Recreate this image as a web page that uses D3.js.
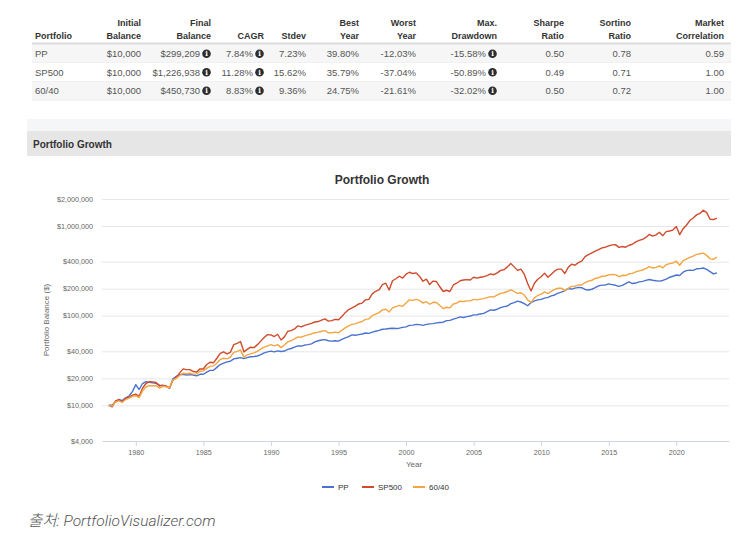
<!DOCTYPE html>
<html><head><meta charset="utf-8">
<script src="https://cdn.jsdelivr.net/npm/d3@7"></script>
<style>
body{margin:0;background:#fff;}
svg{display:block;font-family:"Liberation Sans",Arial,Helvetica,sans-serif;}
</style>
</head><body>
<svg id="c" width="743" height="536"></svg>
<script>
// ---------------- DATA ----------------
const portfolios = ["PP", "SP500", "60/40"];
const headLine1 = ["", "Initial", "Final", "", "", "Best", "Worst", "Max.", "Sharpe", "Sortino", "Market"];
const headLine2 = ["Portfolio", "Balance", "Balance", "CAGR", "Stdev", "Year", "Year", "Drawdown", "Ratio", "Ratio", "Correlation"];
const initialBalance = ["$10,000", "$10,000", "$10,000"];
const finalBalance = ["$299,209", "$1,226,938", "$450,730"];
const cagr = ["7.84%", "11.28%", "8.83%"];
const stdev = ["7.23%", "15.62%", "9.36%"];
const bestYear = ["39.80%", "35.79%", "24.75%"];
const worstYear = ["-12.03%", "-37.04%", "-21.61%"];
const maxDrawdown = ["-15.58%", "-50.89%", "-32.02%"];
const sharpeRatio = ["0.50", "0.49", "0.50"];
const sortinoRatio = ["0.78", "0.71", "0.72"];
const marketCorrelation = ["0.59", "1.00", "1.00"];
const hasInfoIcon = [false, false, true, true, false, false, false, true, false, false, false];

const seriesNames = ["PP", "SP500", "60/40"];
const startYear = 1978;           // quarterly values, Jan 1978 .. Jan 2023
// portfolio balances in thousands of dollars
const ppK = [
  10.0, 10.1, 10.9, 11.6,
  11.3, 12.1, 12.7, 14.2,
  17.0, 15.0, 17.5, 18.4,
  18.0, 17.8, 17.6, 16.8,
  16.6, 16.4, 15.4, 19.8,
  21.0, 22.0, 22.2, 21.8,
  22.0, 21.8, 21.3, 22.2,
  22.2, 23.5, 24.5, 24.6,
  26.5, 28.5, 29.5, 30.5,
  31.0, 33.0, 33.5, 34.0,
  33.2, 34.0, 34.8, 35.0,
  35.5, 36.8, 38.5, 39.5,
  40.2, 39.5, 40.5, 39.8,
  40.3, 42.0, 43.0, 44.5,
  46.0, 45.8, 47.0, 47.5,
  48.5, 51.0, 52.5, 53.5,
  54.0, 52.5, 52.0, 52.5,
  52.0, 54.5, 56.5, 58.5,
  61.0, 60.5, 61.5, 62.5,
  64.0, 63.5, 65.5, 67.0,
  68.5, 70.5, 71.0, 72.0,
  72.5, 72.0, 72.5, 74.0,
  75.0, 78.0, 78.5, 80.0,
  79.5, 78.0, 80.0, 81.0,
  81.5, 83.0, 84.0, 84.5,
  88.0, 88.5, 91.5, 94.0,
  97.0, 95.5, 97.5, 99.0,
  102.0, 102.5, 104.5, 106.0,
  111.0, 116.0, 115.0, 118.0,
  123.0, 126.0, 128.0, 136.0,
  140.0, 145.0, 142.0, 136.0,
  129.0, 140.0, 146.0, 150.0,
  152, 157, 160, 166,
  170, 178, 183, 190,
  200, 198, 203, 207,
  205, 196, 193, 197,
  205, 215, 219, 220,
  226, 222, 218, 212,
  218, 228, 238, 228,
  231, 238, 241, 247,
  253, 248, 245, 243,
  247, 256, 268, 275,
  284, 280, 305, 318,
  322, 320, 333, 335,
  340, 328, 310, 292,
  299
];
const sp500K = [
  10.0, 9.6, 11.2, 11.6,
  10.9, 12.0, 12.3, 13.0,
  13.3, 12.6, 15.5, 17.5,
  18.4, 18.2, 18.0, 16.4,
  16.8, 16.4, 15.7, 19.0,
  20.5, 23.0, 25.5, 25.0,
  25.0, 23.8, 23.5, 25.5,
  25.4, 28.5, 30.2, 29.8,
  33.5, 38.0, 39.5, 37.5,
  39.0, 47.5, 49.0, 51.5,
  39.5, 42.0, 44.5, 44.0,
  47.5, 52.0, 57.0, 61.5,
  61.0, 58.5, 62.0, 53.5,
  58.0, 67.0, 68.0, 71.0,
  77.0, 75.0, 78.0, 80.0,
  82.0, 85.0, 86.0, 89.0,
  92.0, 87.0, 88.0, 91.0,
  90.0, 98.0, 108.0, 117.0,
  122.0, 128.0, 135.0, 138.0,
  150.0, 152.0, 175.0, 187.0,
  194.0, 222.0, 230.0, 193.0,
  245.0, 258.0, 275.0, 262.0,
  290.0, 305.0, 295.0, 300.0,
  274.0, 242.0, 255.0, 222.0,
  243.0, 240.0, 210.0, 186.0,
  192.0, 186.0, 220.0, 230.0,
  245.0, 250.0, 252.0, 250.0,
  268.0, 262.0, 268.0, 272.0,
  280.0, 292.0, 286.0, 300.0,
  320.0, 325.0, 350.0, 382.0,
  350.0, 320.0, 330.0, 290.0,
  228.0, 188.0, 230.0, 255.0,
  272.0, 298.0, 268.0, 290.0,
  315.0, 330.0, 330.0, 295.0,
  345.0, 375.0, 365.0, 390.0,
  405.0, 455.0, 480.0, 500.0,
  525.0, 545.0, 570.0, 580.0,
  600.0, 615.0, 620.0, 578.0,
  590.0, 580.0, 610.0, 625.0,
  665.0, 690.0, 710.0, 745.0,
  805.0, 770.0, 795.0, 850.0,
  780.0, 865.0, 880.0, 900.0,
  985.0, 800.0, 930.0, 1020.0,
  1150.0, 1230.0, 1330.0, 1380.0,
  1500.0, 1410.0, 1190.0, 1180.0,
  1227.0
];
const sixtyFortyK = [
  10.0, 9.8, 10.9, 11.2,
  10.8, 11.6, 12.0, 12.6,
  12.8, 12.2, 14.5, 16.0,
  16.6, 16.5, 16.6, 15.6,
  16.3, 16.1, 15.6, 19.2,
  20.0, 21.5, 22.8, 22.5,
  22.8, 22.3, 22.4, 24.0,
  24.2, 25.8, 27.2, 27.5,
  29.5, 32.5, 33.5, 33.0,
  34.5, 39.0, 40.0, 41.5,
  34.5, 36.5, 37.5, 38.5,
  40.0, 42.5, 44.5, 46.0,
  47.5, 46.0, 47.5, 44.0,
  47.0, 51.0, 52.5, 55.0,
  58.0, 57.5, 59.5, 61.0,
  62.5, 64.5, 65.5, 67.0,
  68.0, 64.5, 64.5, 65.5,
  64.5, 68.5, 73.0, 77.0,
  80.0, 81.0, 84.0, 86.0,
  91.0, 92.0, 100.0, 104.0,
  108.0, 116.0, 118.0, 110.0,
  122.0, 126.0, 130.0, 127.0,
  138.0, 150.0, 148.0, 152.0,
  148.0, 138.0, 143.0, 134.0,
  141.0, 140.0, 130.0, 120.0,
  124.0, 122.0, 135.0, 138.0,
  145.0, 144.0, 146.0, 146.0,
  152.0, 150.0, 153.0, 155.0,
  159.0, 163.0, 162.0, 170.0,
  177.0, 180.0, 186.0, 194.0,
  186.0, 177.0, 180.0, 170.0,
  150.0, 140.0, 158.0, 168.0,
  174, 184, 176, 187,
  196, 202, 203, 190,
  202, 212, 213, 220,
  220, 234, 243, 248,
  260, 265, 275, 277,
  285, 288, 287, 273,
  282, 280, 293, 296,
  308, 316, 323, 334,
  352, 340, 346, 358,
  342, 370, 380, 387,
  405, 365, 410, 428,
  447, 462, 483, 490,
  498, 470, 430, 425,
  451
];
const yTickValues = [4000, 10000, 20000, 40000, 100000, 200000, 400000, 1000000, 2000000];
const xTickValues = [1980, 1985, 1990, 1995, 2000, 2005, 2010, 2015, 2020];

// ---------------- STYLE / LAYOUT ----------------
const colors = {"PP": "#4a73cf", "SP500": "#cf4b2c", "60/40": "#f4a541"};
const svg = d3.select("#c");

// ---------- statistics table ----------
const tableColumns = [portfolios, initialBalance, finalBalance, cagr, stdev, bestYear, worstYear,
  maxDrawdown, sharpeRatio, sortinoRatio, marketCorrelation];
const colRight = [null, 141, 211, 264, 306, 359, 416, 497, 564, 631, 724];
const tLeft = 32, tRight = 731, rowTop = 44.5, rowH = 18.5;

const tbl = svg.append("g");
portfolios.forEach((p, i) => {
  tbl.append("rect").attr("x", tLeft).attr("y", rowTop + i * rowH)
    .attr("width", tRight - tLeft).attr("height", rowH)
    .attr("fill", i % 2 === 0 ? "#f6f6f6" : "#ffffff");
  tbl.append("line").attr("x1", tLeft).attr("x2", tRight)
    .attr("y1", rowTop + (i + 1) * rowH).attr("y2", rowTop + (i + 1) * rowH)
    .attr("stroke", "#ebebeb");
});
tbl.append("line").attr("x1", tLeft).attr("x2", tRight).attr("y1", 43.5).attr("y2", 43.5)
  .attr("stroke", "#dcdcdc").attr("stroke-width", 2);

function colX(c) { return c === 0 ? 35 : colRight[c] - (hasInfoIcon[c] ? 11 : 0); }
function anchor(c) { return c === 0 ? "start" : "end"; }

[headLine1, headLine2].forEach((line, li) => {
  line.forEach((t, c) => {
    if (!t) return;
    tbl.append("text").attr("x", c === 0 ? 35 : colRight[c]).attr("y", li === 0 ? 26 : 38.5)
      .attr("text-anchor", anchor(c)).attr("font-size", 9).attr("font-weight", "bold")
      .attr("fill", "#333").text(t);
  });
});

tableColumns.forEach((col, c) => {
  col.forEach((v, i) => {
    const cy = rowTop + i * rowH + rowH / 2;
    tbl.append("text").attr("x", colX(c)).attr("y", cy + 3.3)
      .attr("text-anchor", anchor(c)).attr("font-size", 9.5).attr("fill", "#555").text(v);
    if (hasInfoIcon[c]) {
      const ix = colRight[c] - 4.5;
      tbl.append("circle").attr("cx", ix).attr("cy", cy).attr("r", 4.3).attr("fill", "#2d2d2d");
      tbl.append("text").attr("x", ix).attr("y", cy + 2.6).attr("text-anchor", "middle")
        .attr("font-size", 7).attr("font-weight", "bold").attr("font-family", "DejaVu Serif, serif")
        .attr("fill", "#fff").text("i");
    }
  });
});

// ---------- section header ----------
svg.append("rect").attr("x", 27).attr("y", 119).attr("width", 704).attr("height", 12).attr("fill", "#f5f6f7");
svg.append("rect").attr("x", 27).attr("y", 131).attr("width", 704).attr("height", 25).attr("fill", "#e6e6e6");
svg.append("text").attr("x", 33).attr("y", 147.5).attr("font-size", 10).attr("font-weight", "bold")
  .attr("fill", "#333").text("Portfolio Growth");

// ---------- chart ----------
const x = d3.scaleLinear().domain([1977.5, 2023.9]).range([102, 729]);
const y = d3.scaleLog().domain([4000, 2000000]).range([441, 199]);

svg.append("text").attr("x", 382).attr("y", 184).attr("text-anchor", "middle")
  .attr("font-size", 12).attr("font-weight", "bold").attr("fill", "#333").text("Portfolio Growth");

const gy = svg.append("g").attr("transform", "translate(102,0)")
  .call(d3.axisLeft(y).tickValues(yTickValues).tickFormat(d => "$" + d3.format(",")(d))
    .tickSize(-627).tickPadding(9));
gy.select(".domain").remove();
gy.selectAll(".tick line").attr("stroke", "#e6e6e6");
gy.selectAll(".tick text").attr("font-size", 7.2).attr("fill", "#666").attr("font-family", null);

const gx = svg.append("g").attr("transform", "translate(0,441)")
  .call(d3.axisBottom(x).tickValues(xTickValues).tickFormat(d3.format("d"))
    .tickSize(5).tickSizeOuter(0).tickPadding(4));
gx.select(".domain").attr("stroke", "#ccd6eb");
gx.selectAll(".tick line").attr("stroke", "#ccd6eb");
gx.selectAll(".tick text").attr("font-size", 7.2).attr("fill", "#666").attr("font-family", null);

svg.append("text").attr("transform", "translate(49,320) rotate(-90)").attr("text-anchor", "middle")
  .attr("font-size", 8).attr("fill", "#666").text("Portfolio Balance ($)");
svg.append("text").attr("x", 414).attr("y", 466.5).attr("text-anchor", "middle")
  .attr("font-size", 8).attr("fill", "#666").text("Year");

const seriesData = {"PP": ppK, "SP500": sp500K, "60/40": sixtyFortyK};
const line = d3.line().x(d => x(d.t)).y(d => y(d.v));
seriesNames.forEach(name => {
  const pts = seriesData[name].map((v, i) => ({t: startYear + i / 4, v: v * 1000}));
  svg.append("path").datum(pts).attr("d", line).attr("fill", "none")
    .attr("stroke", colors[name]).attr("stroke-width", 1.4).attr("stroke-linejoin", "round");
});

// legend
const legendX = [322, 362, 413];
seriesNames.forEach((name, i) => {
  svg.append("line").attr("x1", legendX[i]).attr("x2", legendX[i] + 12).attr("y1", 487).attr("y2", 487)
    .attr("stroke", colors[name]).attr("stroke-width", 2);
  svg.append("text").attr("x", legendX[i] + 16).attr("y", 490).attr("font-size", 8)
    .attr("fill", "#333").text(name);
});

// source
svg.append("text").attr("x", 28).attr("y", 526).attr("font-size", 15.5)
  .attr("font-style", "italic").attr("font-weight", 300)
  .attr("font-family", "Roboto, 'Noto Sans CJK KR', sans-serif")
  .attr("fill", "#555").text("출처: PortfolioVisualizer.com");
</script>
</body></html>
